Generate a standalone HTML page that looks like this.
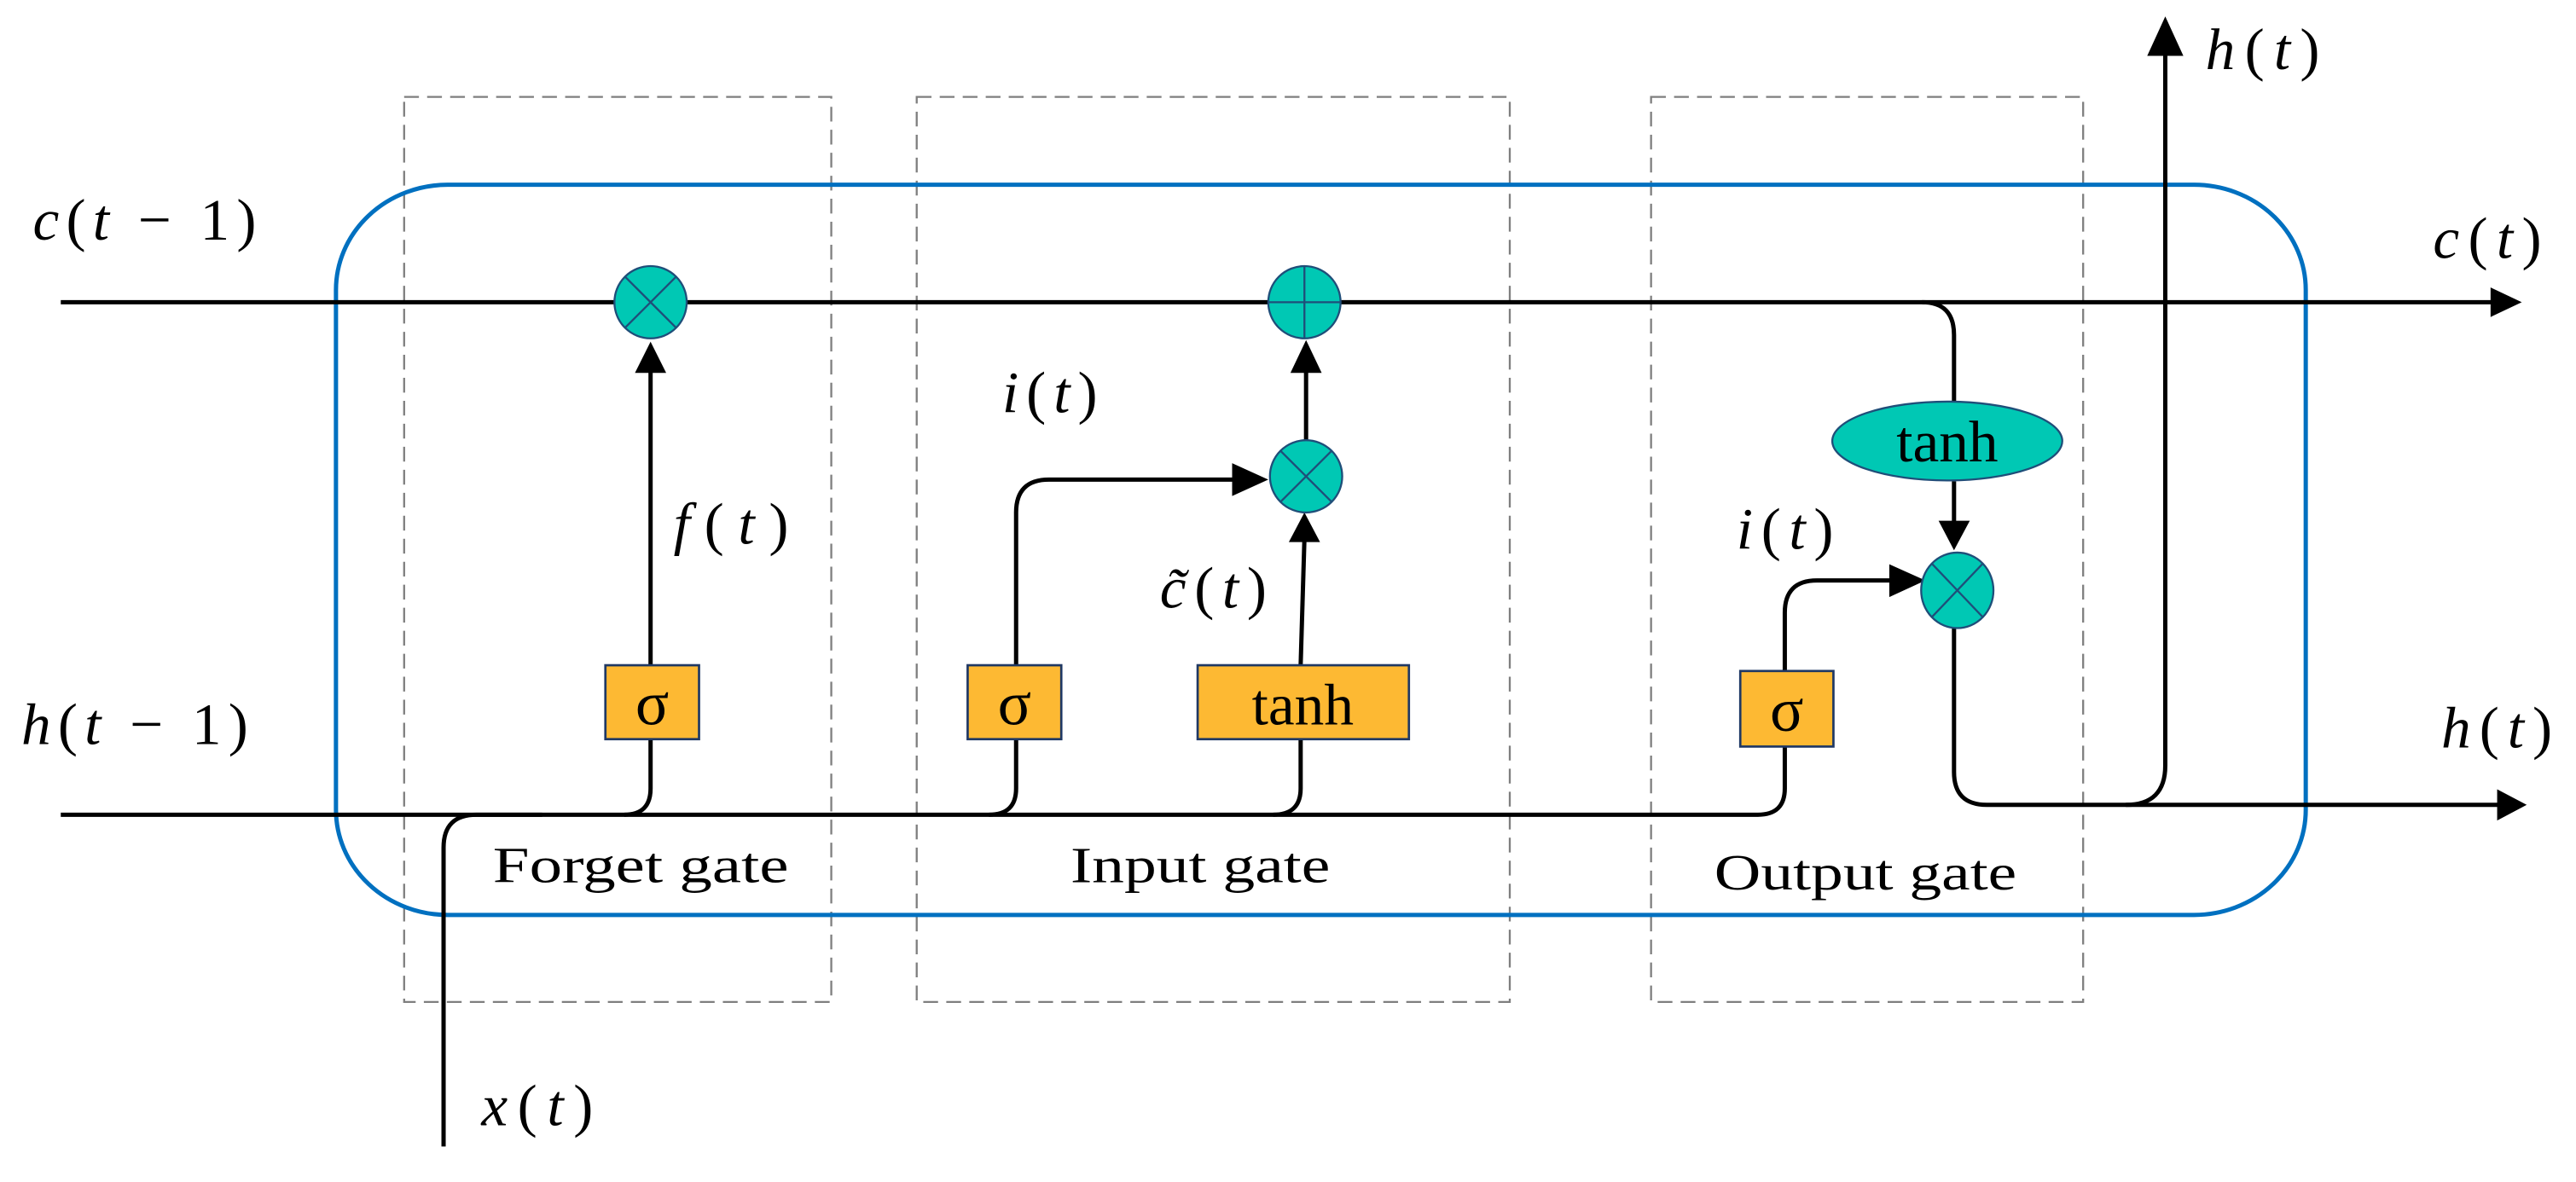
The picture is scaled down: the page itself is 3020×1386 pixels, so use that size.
<!DOCTYPE html>
<html><head><meta charset="utf-8"><style>
html,body{margin:0;padding:0;background:#fff;}
svg{display:block;}
text{font-family:"Liberation Serif",serif;fill:#000;font-weight:normal;}
.m{font-style:italic;}
</style></head><body>
<svg width="3020" height="1386" viewBox="0 0 1568 719.6" preserveAspectRatio="none" xmlns="http://www.w3.org/2000/svg">
<g fill="none" stroke="#7f7f7f" stroke-width="1.2" stroke-dasharray="9,5">
<rect x="246" y="59" width="260" height="551"/>
<rect x="558" y="59" width="361" height="551"/>
<rect x="1005" y="59" width="263" height="551"/>
</g>
<rect x="204.5" y="112.5" width="1199" height="444.5" rx="68" ry="64" fill="none" stroke="#0070c0" stroke-width="2.6"/>

<g fill="none" stroke="#000" stroke-width="2.6">
<line x1="37" y1="184" x2="1518" y2="184"/>
<path d="M37 496 H1070 Q1086.4 496 1086.4 480 V454"/>
<path d="M380 496 Q396 496 396 480 V450"/>
<line x1="396" y1="405" x2="396" y2="226"/>
<path d="M270 698 V516 Q270 496 290 496 H330"/>
<path d="M602 496 Q618.5 496 618.5 480 V450"/>
<path d="M618.5 405 V312 Q618.5 292 638.5 292 H750"/>
<path d="M775 496 Q791.7 496 791.7 480 V450"/>
<line x1="791.7" y1="405" x2="794" y2="328"/>
<line x1="795" y1="268" x2="795" y2="226"/>
<path d="M1170 184 Q1189.4 184 1189.4 204 V245"/>
<line x1="1189.4" y1="293" x2="1189.4" y2="318"/>
<path d="M1086.4 408.5 V373 Q1086.4 353.4 1106 353.4 H1151"/>
<path d="M1189.4 381 V470 Q1189.4 490 1209.4 490 H1522"/>
<path d="M1294 490 Q1318 490 1318 466 V33"/>
</g>

<g fill="#000">
<polygon points="396,208 386.5,227 405.5,227"/>
<polygon points="795,207 785.5,227 804.5,227"/>
<polygon points="772,292 750,282 750,302"/>
<polygon points="794,312 784.5,330 803.5,330"/>
<polygon points="1189.4,335 1180,317 1199,317"/>
<polygon points="1172,353.4 1150,343.5 1150,363.5"/>
<polygon points="1535,184 1516,175 1516,193"/>
<polygon points="1538,490 1520,480.5 1520,499.5"/>
<polygon points="1318,10 1307,34 1329,34"/>
</g>

<g stroke="#1f4e79" stroke-width="1.2">
<ellipse cx="396" cy="184" rx="22" ry="22" fill="#00c8b4"/>
<line x1="380.4" y1="168.4" x2="411.6" y2="199.6"/><line x1="411.6" y1="168.4" x2="380.4" y2="199.6"/>
<ellipse cx="794" cy="184" rx="22" ry="22" fill="#00c8b4"/>
<line x1="772" y1="184" x2="816" y2="184"/><line x1="794" y1="162" x2="794" y2="206"/>
<ellipse cx="795" cy="290" rx="22" ry="22" fill="#00c8b4"/>
<line x1="779.4" y1="274.4" x2="810.6" y2="305.6"/><line x1="810.6" y1="274.4" x2="779.4" y2="305.6"/>
<ellipse cx="1191.4" cy="359.4" rx="22" ry="23" fill="#00c8b4"/>
<line x1="1175.8" y1="343" x2="1207" y2="375.8"/><line x1="1207" y1="343" x2="1175.8" y2="375.8"/>
<ellipse cx="1185.3" cy="268.5" rx="70" ry="24" fill="#00c8b4"/>
</g>

<g fill="#fdb933" stroke="#1f3864" stroke-width="1.4">
<rect x="368.5" y="405" width="57" height="45"/>
<rect x="589" y="405" width="57" height="45"/>
<rect x="729" y="405" width="128.6" height="45"/>
<rect x="1059.3" y="408.5" width="56.7" height="46"/>
</g>

<g font-size="38" text-anchor="middle">
<text x="397" y="441">σ</text>
<text x="617.5" y="441">σ</text>
<text x="793" y="441" font-size="36">tanh</text>
<text x="1087.6" y="445">σ</text>
<text x="1185.3" y="281" font-size="36">tanh</text>
</g>

<g font-size="31">
<text x="300" y="537" textLength="180" lengthAdjust="spacingAndGlyphs">Forget gate</text>
<text x="651.6" y="537" textLength="158" lengthAdjust="spacingAndGlyphs">Input gate</text>
<text x="1043.5" y="541.6" textLength="184" lengthAdjust="spacingAndGlyphs">Output gate</text>
</g>

<g font-size="36">
<text x="20" y="146" textLength="136" lengthAdjust="spacing"><tspan class="m">c</tspan>(<tspan class="m">t</tspan> − 1)</text>
<text x="13" y="453" textLength="138" lengthAdjust="spacing"><tspan class="m">h</tspan>(<tspan class="m">t</tspan> − 1)</text>
<text x="410" y="331" textLength="70" lengthAdjust="spacing"><tspan class="m">f</tspan>(<tspan class="m">t</tspan>)</text>
<text x="610" y="251" textLength="58" lengthAdjust="spacing"><tspan class="m">i</tspan>(<tspan class="m">t</tspan>)</text>
<text x="706" y="370" textLength="65" lengthAdjust="spacing"><tspan class="m">c̃</tspan>(<tspan class="m">t</tspan>)</text>
<text x="1057" y="334" textLength="59" lengthAdjust="spacing"><tspan class="m">i</tspan>(<tspan class="m">t</tspan>)</text>
<text x="1342.5" y="42" textLength="69.5" lengthAdjust="spacing"><tspan class="m">h</tspan>(<tspan class="m">t</tspan>)</text>
<text x="1481" y="157" textLength="66" lengthAdjust="spacing"><tspan class="m">c</tspan>(<tspan class="m">t</tspan>)</text>
<text x="1486" y="455" textLength="67.5" lengthAdjust="spacing"><tspan class="m">h</tspan>(<tspan class="m">t</tspan>)</text>
<text x="293" y="685" textLength="68" lengthAdjust="spacing"><tspan class="m">x</tspan>(<tspan class="m">t</tspan>)</text>
</g>
</svg>
</body></html>
